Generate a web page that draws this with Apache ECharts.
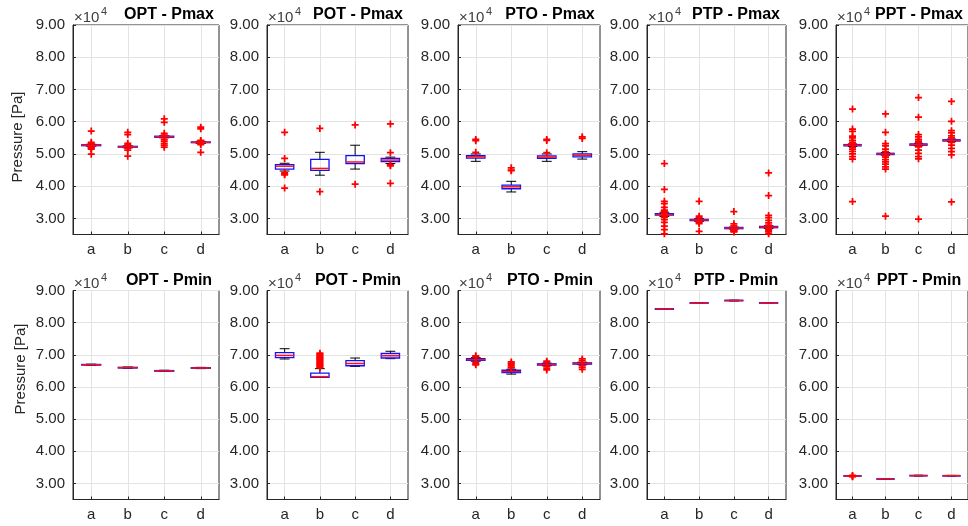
<!DOCTYPE html>
<html>
<head>
<meta charset="utf-8">
<script src="https://cdn.jsdelivr.net/npm/echarts@6/dist/echarts.min.js"></script>
<style>
html,body{margin:0;padding:0;background:#fff;}
#chart{width:968px;height:526px;}
</style>
</head>
<body>
<div id="chart"></div>
<script>
// ---- data (values in units of 10^4 Pa) ----
const categories = ['a', 'b', 'c', 'd'];
const panelTitles = ['OPT - Pmax', 'POT - Pmax', 'PTO - Pmax', 'PTP - Pmax', 'PPT - Pmax',
                     'OPT - Pmin', 'POT - Pmin', 'PTO - Pmin', 'PTP - Pmin', 'PPT - Pmin'];
const yLabel = 'Pressure [Pa]';
const yMin = 2.5, yMax = 9;

// box stats per category: [lower whisker, Q1, median, Q3, upper whisker]
const optPmaxBox = [[5.24, 5.255, 5.27, 5.285, 5.30], [5.19, 5.21, 5.22, 5.235, 5.25], [5.50, 5.515, 5.53, 5.55, 5.56], [5.33, 5.35, 5.36, 5.37, 5.39]];
const optPmaxOut = [[5.71, 5.36, 5.32, 5.22, 5.20, 5.18, 5.15, 4.99], [5.67, 5.60, 5.33, 5.28, 5.17, 5.12, 4.93], [6.09, 5.98, 5.64, 5.58, 5.45, 5.40, 5.33, 5.27, 5.21], [5.83, 5.78, 5.42, 5.40, 5.32, 5.29, 5.05]];

const potPmaxBox = [[4.47, 4.53, 4.62, 4.67, 4.71], [4.34, 4.49, 4.55, 4.83, 5.05], [4.53, 4.70, 4.75, 4.95, 5.27], [4.70, 4.76, 4.81, 4.86, 4.90]];
const potPmaxOut = [[5.67, 4.86, 4.42, 4.38, 4.35, 3.94], [5.79, 3.83], [5.90, 4.06], [5.93, 5.04, 4.66, 4.63, 4.09]];

const ptoPmaxBox = [[4.77, 4.87, 4.91, 4.95, 5.00], [3.82, 3.92, 3.98, 4.03, 4.15], [4.77, 4.86, 4.90, 4.94, 5.00], [4.84, 4.91, 4.96, 5.00, 5.07]];
const ptoPmaxOut = [[5.45, 5.41, 5.05], [4.57, 4.50, 4.48], [5.45, 5.42, 5.04], [5.53, 5.48]];

const ptpPmaxBox = [[3.06, 3.10, 3.12, 3.15, 3.19], [2.91, 2.93, 2.95, 2.97, 2.99], [2.67, 2.68, 2.70, 2.72, 2.73], [2.69, 2.71, 2.73, 2.75, 2.77]];
const ptpPmaxOut = [[4.70, 3.90, 3.53, 3.46, 3.34, 3.26, 3.22, 3.16, 3.08, 3.03, 2.96, 2.88, 2.76, 2.65, 2.52], [3.53, 3.07, 3.02, 2.90, 2.88, 2.84, 2.60], [3.21, 2.83, 2.77, 2.66, 2.64, 2.62, 2.60, 2.58], [4.41, 3.71, 3.09, 3.02, 2.94, 2.86, 2.79, 2.68, 2.65, 2.63, 2.58, 2.52]];

const pptPmaxBox = [[5.23, 5.25, 5.27, 5.29, 5.31], [4.96, 4.98, 5.00, 5.02, 5.04], [5.25, 5.27, 5.29, 5.31, 5.33], [5.38, 5.40, 5.42, 5.44, 5.46]];
const pptPmaxOut = [[6.39, 5.77, 5.70, 5.55, 5.50, 5.42, 5.36, 5.32, 5.20, 5.15, 5.08, 5.00, 4.92, 4.84, 3.52], [6.24, 5.67, 5.32, 5.25, 5.15, 5.07, 4.95, 4.90, 4.82, 4.75, 4.68, 4.60, 4.53, 3.07], [6.75, 6.14, 5.60, 5.53, 5.45, 5.40, 5.35, 5.22, 5.12, 5.02, 4.92, 4.85, 2.98], [6.63, 6.01, 5.72, 5.65, 5.56, 5.50, 5.36, 5.27, 5.17, 5.07, 4.97, 3.51]];

const optPminBox = [[6.67, 6.68, 6.69, 6.70, 6.71], [6.58, 6.59, 6.60, 6.61, 6.62], [6.48, 6.49, 6.50, 6.51, 6.52], [6.57, 6.58, 6.59, 6.60, 6.61]];
const optPminOut = [[], [], [], []];

const potPminBox = [[6.87, 6.91, 6.98, 7.07, 7.19], [6.30, 6.30, 6.32, 6.43, 6.57], [6.64, 6.66, 6.73, 6.82, 6.90], [6.88, 6.90, 6.97, 7.04, 7.11]];
const potPminOut = [[], [6.60, 6.63, 6.66, 6.69, 6.72, 6.75, 6.78, 6.81, 6.84, 6.87, 6.90, 6.93, 6.96, 6.99, 7.02, 7.05], [], []];

const ptoPminBox = [[6.80, 6.83, 6.85, 6.88, 6.91], [6.40, 6.45, 6.48, 6.52, 6.55], [6.66, 6.68, 6.70, 6.72, 6.74], [6.69, 6.71, 6.73, 6.75, 6.77]];
const ptoPminOut = [[6.97, 6.94, 6.76, 6.72, 6.69], [6.78, 6.74, 6.70, 6.66, 6.62, 6.59], [6.80, 6.77, 6.63, 6.58, 6.53], [6.87, 6.82, 6.66, 6.61, 6.55]];

const ptpPminBox = [[8.41, 8.415, 8.425, 8.435, 8.44], [8.60, 8.605, 8.61, 8.62, 8.625], [8.675, 8.68, 8.69, 8.695, 8.70], [8.60, 8.605, 8.61, 8.62, 8.625]];
const ptpPminOut = [[], [], [], []];

const pptPminBox = [[3.22, 3.225, 3.23, 3.24, 3.245], [3.13, 3.135, 3.14, 3.145, 3.15], [3.23, 3.235, 3.24, 3.25, 3.255], [3.23, 3.235, 3.24, 3.245, 3.25]];
const pptPminOut = [[3.25, 3.22, 3.21], [], [], []];

const panelBoxes = [optPmaxBox, potPmaxBox, ptoPmaxBox, ptpPmaxBox, pptPmaxBox, optPminBox, potPminBox, ptoPminBox, ptpPminBox, pptPminBox];
const panelOutliers = [optPmaxOut, potPmaxOut, ptoPmaxOut, ptpPmaxOut, pptPmaxOut, optPminOut, potPminOut, ptoPminOut, ptpPminOut, pptPminOut];

// ---- layout ----
const colLeft = [73, 267, 458, 647, 836];
const colWidth = [146, 141, 142, 139, 133];
const rowTop = [25, 290.5];
const rowHeight = [209.5, 209];
const FONT = '"Liberation Sans", Arial, Helvetica, sans-serif';
const AX = '#262626';

const chart = echarts.init(document.getElementById('chart'));
const grids = [], xAxes = [], yAxes = [], series = [], graphics = [];
const plusPath = 'path://M3,0H5V3H8V5H5V8H3V5H0V3H3Z';

function renderBox(params, api) {
  const x = api.value(0);
  const band = api.size([1, 0])[0];
  const hw = band * 0.26, cw = band * 0.14;
  const pMin = api.coord([x, api.value(1)]);
  const pQ1 = api.coord([x, api.value(2)]);
  const pMed = api.coord([x, api.value(3)]);
  const pQ3 = api.coord([x, api.value(4)]);
  const pMax = api.coord([x, api.value(5)]);
  const cx = pMed[0];
  const black = {stroke: '#000', lineWidth: 1};
  return {
    type: 'group',
    children: [
      {type: 'line', shape: {x1: cx, y1: pMax[1], x2: cx, y2: pQ3[1]}, style: black},
      {type: 'line', shape: {x1: cx, y1: pMin[1], x2: cx, y2: pQ1[1]}, style: black},
      {type: 'line', shape: {x1: cx - cw, y1: pMax[1], x2: cx + cw, y2: pMax[1]}, style: black},
      {type: 'line', shape: {x1: cx - cw, y1: pMin[1], x2: cx + cw, y2: pMin[1]}, style: black},
      {type: 'rect', shape: {x: cx - hw, y: pQ3[1], width: 2 * hw, height: Math.max(pQ1[1] - pQ3[1], 0.5)},
       style: {fill: 'rgba(0,0,0,0)', stroke: '#1010ff', lineWidth: 1.3}},
      {type: 'line', shape: {x1: cx - hw, y1: pMed[1], x2: cx + hw, y2: pMed[1]}, style: {stroke: '#ff1010', lineWidth: 1.5}}
    ]
  };
}

for (let i = 0; i < 10; i++) {
  const r = Math.floor(i / 5), c = i % 5;
  const left = colLeft[c], width = colWidth[c], top = rowTop[r], height = rowHeight[r];
  grids.push({left: left, top: top, width: width, height: height, show: true,
              borderColor: AX, borderWidth: 1, containLabel: false});
  xAxes.push({
    type: 'category', gridIndex: i, data: categories, boundaryGap: true,
    axisLine: {show: true, lineStyle: {color: AX, width: 1}},
    axisTick: {show: true, inside: true, alignWithLabel: true, length: 3, lineStyle: {color: AX}},
    axisLabel: {color: AX, fontFamily: FONT, fontSize: 15, margin: 8},
    splitLine: {show: true, alignWithLabel: true, lineStyle: {color: '#e3e3e3', width: 1}}
  });
  yAxes.push({
    type: 'value', gridIndex: i, min: yMin, max: yMax, splitNumber: 6,
    axisLine: {show: true, lineStyle: {color: AX, width: 1}},
    axisTick: {show: true, inside: true, length: 3, lineStyle: {color: AX}},
    axisLabel: {color: AX, fontFamily: FONT, fontSize: 15, margin: 8,
      formatter: v => (Math.abs(v - Math.round(v)) < 1e-9 ? v.toFixed(2) : '')},
    splitLine: {show: true, lineStyle: {color: '#e3e3e3', width: 1}}
  });
  series.push({
    type: 'custom', xAxisIndex: i, yAxisIndex: i, renderItem: renderBox, silent: true, z: 2,
    encode: {x: 0, y: [1, 2, 3, 4, 5]},
    data: panelBoxes[i].map((b, k) => [k, b[0], b[1], b[2], b[3], b[4]])
  });
  const pts = [];
  panelOutliers[i].forEach((arr, k) => arr.forEach(v => pts.push([k, v])));
  series.push({
    type: 'scatter', xAxisIndex: i, yAxisIndex: i, symbol: plusPath, symbolSize: 7,
    itemStyle: {color: '#ff0000', opacity: 1}, silent: true, z: 3, data: pts
  });
  // title
  graphics.push({type: 'text', x: left + width - 50, y: top - 10,
    style: {text: panelTitles[i], font: 'bold 16px ' + FONT, fill: '#000', align: 'center', verticalAlign: 'middle'}});
  // x10^4 exponent
  graphics.push({type: 'text', x: left + 1, y: top - 7,
    style: {text: '×10', font: '15px ' + FONT, fill: '#404040', align: 'left', verticalAlign: 'middle'}});
  graphics.push({type: 'text', x: left + 28, y: top - 13,
    style: {text: '4', font: '11px ' + FONT, fill: '#404040', align: 'left', verticalAlign: 'middle'}});
}
graphics.push({type: 'text', x: 18, y: 137, rotation: Math.PI / 2,
  style: {text: yLabel, font: '15px ' + FONT, fill: AX, align: 'center', verticalAlign: 'middle'}});
graphics.push({type: 'text', x: 21, y: 369, rotation: Math.PI / 2,
  style: {text: yLabel, font: '15px ' + FONT, fill: AX, align: 'center', verticalAlign: 'middle'}});

chart.setOption({
  animation: false,
  backgroundColor: '#fff',
  grid: grids, xAxis: xAxes, yAxis: yAxes, series: series, graphic: graphics
});
</script>
</body>
</html>
